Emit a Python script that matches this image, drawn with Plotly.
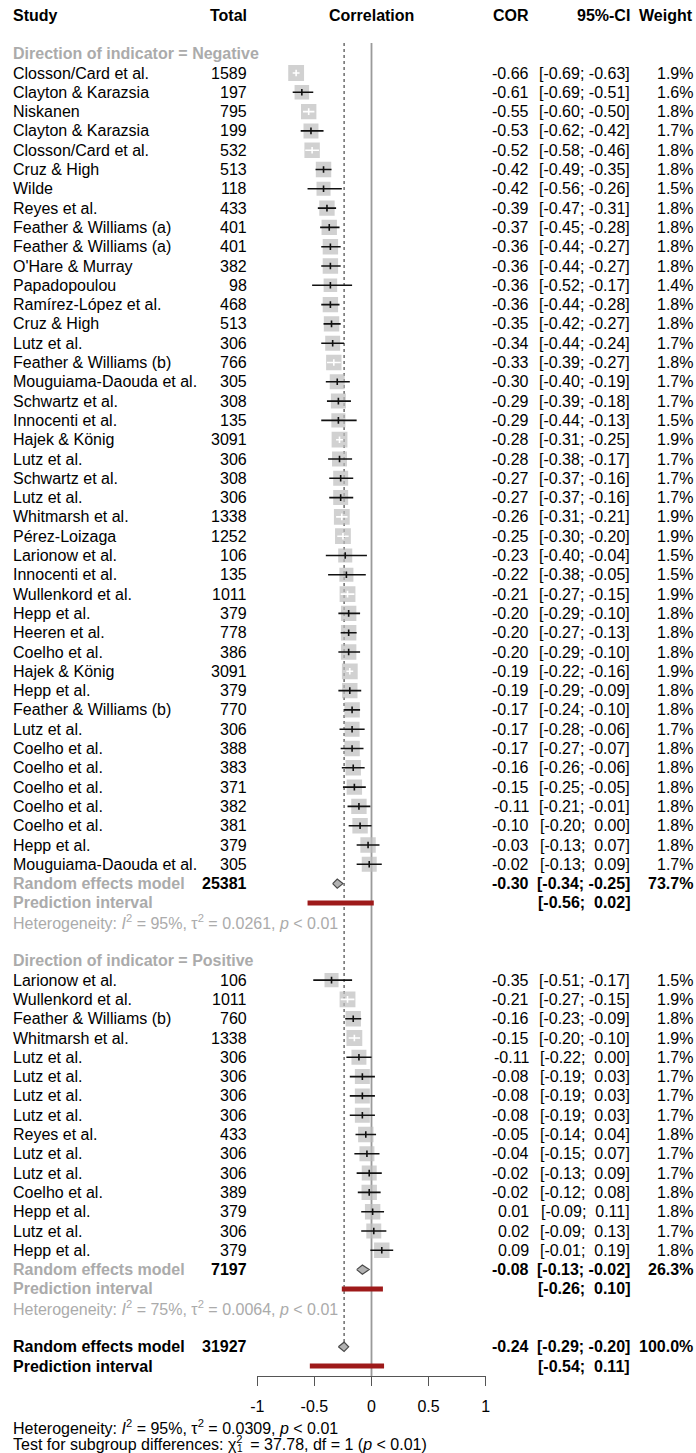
import plotly.graph_objects as go

# ---------------- data ----------------
neg_study = [
    "Closson/Card et al.", "Clayton & Karazsia", "Niskanen", "Clayton & Karazsia",
    "Closson/Card et al.", "Cruz & High", "Wilde", "Reyes et al.",
    "Feather & Williams (a)", "Feather & Williams (a)", "O'Hare & Murray", "Papadopoulou",
    "Ramírez-López et al.", "Cruz & High", "Lutz et al.", "Feather & Williams (b)",
    "Mouguiama-Daouda et al.", "Schwartz et al.", "Innocenti et al.", "Hajek & König",
    "Lutz et al.", "Schwartz et al.", "Lutz et al.", "Whitmarsh et al.",
    "Pérez-Loizaga", "Larionow et al.", "Innocenti et al.", "Wullenkord et al.",
    "Hepp et al.", "Heeren et al.", "Coelho et al.", "Hajek & König",
    "Hepp et al.", "Feather & Williams (b)", "Lutz et al.", "Coelho et al.",
    "Coelho et al.", "Coelho et al.", "Coelho et al.", "Coelho et al.",
    "Hepp et al.", "Mouguiama-Daouda et al.",
]
neg_total = [1589, 197, 795, 199, 532, 513, 118, 433, 401, 401, 382, 98, 468, 513, 306, 766,
             305, 308, 135, 3091, 306, 308, 306, 1338, 1252, 106, 135, 1011, 379, 778, 386,
             3091, 379, 770, 306, 388, 383, 371, 382, 381, 379, 305]
neg_cor = [-0.66, -0.61, -0.55, -0.53, -0.52, -0.42, -0.42, -0.39, -0.37, -0.36, -0.36, -0.36,
           -0.36, -0.35, -0.34, -0.33, -0.30, -0.29, -0.29, -0.28, -0.28, -0.27, -0.27, -0.26,
           -0.25, -0.23, -0.22, -0.21, -0.20, -0.20, -0.20, -0.19, -0.19, -0.17, -0.17, -0.17,
           -0.16, -0.15, -0.11, -0.10, -0.03, -0.02]
neg_lo = [-0.69, -0.69, -0.60, -0.62, -0.58, -0.49, -0.56, -0.47, -0.45, -0.44, -0.44, -0.52,
          -0.44, -0.42, -0.44, -0.39, -0.40, -0.39, -0.44, -0.31, -0.38, -0.37, -0.37, -0.31,
          -0.30, -0.40, -0.38, -0.27, -0.29, -0.27, -0.29, -0.22, -0.29, -0.24, -0.28, -0.27,
          -0.26, -0.25, -0.21, -0.20, -0.13, -0.13]
neg_hi = [-0.63, -0.51, -0.50, -0.42, -0.46, -0.35, -0.26, -0.31, -0.28, -0.27, -0.27, -0.17,
          -0.28, -0.27, -0.24, -0.27, -0.19, -0.18, -0.13, -0.25, -0.17, -0.16, -0.16, -0.21,
          -0.20, -0.04, -0.05, -0.15, -0.10, -0.13, -0.10, -0.16, -0.09, -0.10, -0.06, -0.07,
          -0.06, -0.05, -0.01, 0.00, 0.07, 0.09]
neg_weight = [1.9, 1.6, 1.8, 1.7, 1.8, 1.8, 1.5, 1.8, 1.8, 1.8, 1.8, 1.4, 1.8, 1.8, 1.7, 1.8,
              1.7, 1.7, 1.5, 1.9, 1.7, 1.7, 1.7, 1.9, 1.9, 1.5, 1.5, 1.9, 1.8, 1.8, 1.8, 1.9,
              1.8, 1.8, 1.7, 1.8, 1.8, 1.8, 1.8, 1.8, 1.8, 1.7]

pos_study = [
    "Larionow et al.", "Wullenkord et al.", "Feather & Williams (b)", "Whitmarsh et al.",
    "Lutz et al.", "Lutz et al.", "Lutz et al.", "Lutz et al.", "Reyes et al.",
    "Lutz et al.", "Lutz et al.", "Coelho et al.", "Hepp et al.", "Lutz et al.", "Hepp et al.",
]
pos_total = [106, 1011, 760, 1338, 306, 306, 306, 306, 433, 306, 306, 389, 379, 306, 379]
pos_cor = [-0.35, -0.21, -0.16, -0.15, -0.11, -0.08, -0.08, -0.08, -0.05, -0.04, -0.02, -0.02,
           0.01, 0.02, 0.09]
pos_lo = [-0.51, -0.27, -0.23, -0.20, -0.22, -0.19, -0.19, -0.19, -0.14, -0.15, -0.13, -0.12,
          -0.09, -0.09, -0.01]
pos_hi = [-0.17, -0.15, -0.09, -0.10, 0.00, 0.03, 0.03, 0.03, 0.04, 0.07, 0.09, 0.08,
          0.11, 0.13, 0.19]
pos_weight = [1.5, 1.9, 1.8, 1.9, 1.7, 1.7, 1.7, 1.7, 1.8, 1.7, 1.7, 1.8, 1.8, 1.7, 1.8]

# pooled estimates: (estimate, lower, upper, weight %, total N)
neg_re = (-0.30, -0.34, -0.25, 73.7, 25381)
neg_pi = (-0.56, 0.02)
neg_het = ("95%", "0.0261", "0.01")
pos_re = (-0.08, -0.13, -0.02, 26.3, 7197)
pos_pi = (-0.26, 0.10)
pos_het = ("75%", "0.0064", "0.01")
all_re = (-0.24, -0.29, -0.20, 100.0, 31927)
all_pi = (-0.54, 0.11)
all_het = ("95%", "0.0309", "0.01")
subgroup_test = ("37.78", "1", "0.01")

x_ticks = [-1, -0.5, 0, 0.5, 1]
x_ticktext = ["-1", "-0.5", "0", "0.5", "1"]

# ---------------- layout geometry ----------------
W, H = 696, 1453
ROW_PX = 19.3          # vertical distance between rows
ROW1_PX = 73.0         # pixel centre of row 1
X_LEFT, X_RIGHT = 257.3, 485.7   # pixel extent of the [-1, 1] forest axis
AXIS_PX = 1376         # pixel position of the x axis line
PX_PER_UNIT = (X_RIGHT - X_LEFT) / 2.0


def row_of(ypx):
    return 1 + (ypx - ROW1_PX) / ROW_PX


FONT = "Liberation Sans, Arial, Helvetica, sans-serif"
FS = 16
BLACK = "#000000"
LGRAY = "#ABABAB"
BOX = "#BDBDBD"

fig = go.Figure()
ann = []


def txt(x_px, row, text, anchor="left", color=BLACK, bold=False, size=FS):
    if bold:
        text = "<b>" + text + "</b>"
    ann.append(dict(x=x_px / W, xref="paper", y=row, yref="y", text=text,
                    xanchor=anchor, yanchor="middle", showarrow=False,
                    font=dict(family=FONT, size=size, color=color)))


def fmt_ci(lo, hi):
    a = f"{lo:.2f}" if lo < 0 else "\u00a0" + f"{lo:.2f}"
    b = f"{hi:.2f}" if hi < 0 else "\u00a0" + f"{hi:.2f}"
    return f"[{a}; {b}]"


C_STUDY, C_TOTAL, C_COR, C_CI, C_W = 11, 249, 531, 632, 695

# header
txt(C_STUDY, -2, "Study", bold=True)
txt(C_TOTAL, -2, "Total", anchor="right", bold=True)
txt((X_LEFT + X_RIGHT) / 2, -2, "Correlation", anchor="center", bold=True)
txt(C_COR, -2, "COR", anchor="right", bold=True)
txt(C_CI, -2, "95%-CI", anchor="right", bold=True)
txt(C_W, -2, "Weight", anchor="right", bold=True)

groups = [
    ("Direction of indicator = Negative", 0, neg_study, neg_total, neg_cor, neg_lo, neg_hi,
     neg_weight, neg_re, neg_pi, neg_het),
    ("Direction of indicator = Positive", 47, pos_study, pos_total, pos_cor, pos_lo, pos_hi,
     pos_weight, pos_re, pos_pi, pos_het),
]

sq_x, sq_y, sq_s = [], [], []
blk_x, blk_y, wht_x, wht_y = [], [], [], []
diamonds = []
pis = []
D_H = 0.24   # diamond half height (rows)
T_H = 0.17   # estimate tick half height (rows)


def het_text(h):
    return (f"Heterogeneity: <i>I</i><sup>2</sup> = {h[0]}, τ<sup>2</sup> = {h[1]}, "
            f"<i>p</i> &lt; {h[2]}")


for label, r0, st, tot, cor, lo, hi, wt, re, pi, het in groups:
    txt(C_STUDY, r0, label, color=LGRAY, bold=True)
    for i in range(len(st)):
        r = r0 + 1 + i
        txt(C_STUDY, r, st[i])
        txt(C_TOTAL, r, str(tot[i]), anchor="right")
        txt(C_COR, r, f"{cor[i]:.2f}", anchor="right")
        txt(C_CI, r, fmt_ci(lo[i], hi[i]), anchor="right")
        txt(C_W, r, f"{wt[i]:.1f}%", anchor="right")
        size = 15.4 * (wt[i] / 1.8) ** 0.5
        sq_x.append(cor[i]); sq_y.append(r); sq_s.append(size)
        inside = (hi[i] - lo[i]) * PX_PER_UNIT < size
        xs, ys = (wht_x, wht_y) if inside else (blk_x, blk_y)
        xs += [lo[i], hi[i], None, cor[i], cor[i], None]
        ys += [r, r, None, r - T_H, r + T_H, None]
    r = r0 + len(st) + 1
    txt(C_STUDY, r, "Random effects model", color=LGRAY, bold=True)
    txt(C_TOTAL, r, str(re[4]), anchor="right", bold=True)
    txt(C_COR, r, f"{re[0]:.2f}", anchor="right", bold=True)
    txt(C_CI, r, fmt_ci(re[1], re[2]), anchor="right", bold=True)
    txt(C_W, r, f"{re[3]:.1f}%", anchor="right", bold=True)
    diamonds.append((re, r))
    txt(C_STUDY, r + 1, "Prediction interval", color=LGRAY, bold=True)
    txt(C_CI, r + 1, fmt_ci(pi[0], pi[1]), anchor="right", bold=True)
    pis.append((pi, r + 1))
    txt(C_STUDY, r + 2, het_text(het), color=LGRAY)

# overall
r_all = 67
txt(C_STUDY, r_all, "Random effects model", bold=True)
txt(C_TOTAL, r_all, str(all_re[4]), anchor="right", bold=True)
txt(C_COR, r_all, f"{all_re[0]:.2f}", anchor="right", bold=True)
txt(C_CI, r_all, fmt_ci(all_re[1], all_re[2]), anchor="right", bold=True)
txt(C_W, r_all, f"{all_re[3]:.1f}%", anchor="right", bold=True)
diamonds.append((all_re, r_all))
txt(C_STUDY, r_all + 1, "Prediction interval", bold=True)
txt(C_CI, r_all + 1, fmt_ci(all_pi[0], all_pi[1]), anchor="right", bold=True)
pis.append((all_pi, r_all + 1))

txt(C_STUDY, row_of(1427), het_text(all_het))
txt(C_STUDY, row_of(1443),
    f"Test for subgroup differences: χ<sup>2</sup>\u2009 = "
    f"{subgroup_test[0]}, df = {subgroup_test[1]} (<i>p</i> &lt; {subgroup_test[2]})")
# chi-square degrees of freedom, set beneath the exponent
txt(235, row_of(1448), subgroup_test[1], size=10)

# reference lines
top_row = row_of(43)
fig.add_trace(go.Scatter(x=[0, 0], y=[top_row, row_of(AXIS_PX)], mode="lines",
                         line=dict(color="#9A9A9A", width=1.8), hoverinfo="skip"))
fig.add_trace(go.Scatter(x=[all_re[0], all_re[0]], y=[top_row, r_all - D_H], mode="lines",
                         line=dict(color="#222222", width=1, dash="dot"), hoverinfo="skip"))

# study boxes
fig.add_trace(go.Scatter(x=sq_x, y=sq_y, mode="markers",
                         marker=dict(symbol="square", size=sq_s, color=BOX, line=dict(width=0)),
                         hoverinfo="skip"))
fig.add_trace(go.Scatter(x=blk_x, y=blk_y, mode="lines",
                         line=dict(color="#111111", width=1.6), hoverinfo="skip"))
fig.add_trace(go.Scatter(x=wht_x, y=wht_y, mode="lines",
                         line=dict(color="#FFFFFF", width=1.6), hoverinfo="skip"))

# pooled diamonds
for re, r in diamonds:
    fig.add_trace(go.Scatter(x=[re[1], re[0], re[2], re[0], re[1]],
                             y=[r, r - D_H, r, r + D_H, r], mode="lines", fill="toself",
                             fillcolor="#B2B2B2", line=dict(color="#4A4A4A", width=1.2),
                             hoverinfo="skip"))

# prediction intervals
for pi, r in pis:
    fig.add_trace(go.Scatter(x=[pi[0], pi[1]], y=[r, r], mode="lines",
                             line=dict(color="#9E1A1A", width=5), hoverinfo="skip"))

fig.update_layout(
    width=W, height=H, margin=dict(l=0, r=0, t=0, b=0, pad=0, autoexpand=False),
    paper_bgcolor="white", plot_bgcolor="white", showlegend=False,
    annotations=ann,
    xaxis=dict(domain=[X_LEFT / W, X_RIGHT / W], range=[-1, 1], anchor="free",
               position=1 - AXIS_PX / H, showgrid=False, zeroline=False,
               showline=True, linecolor="#555555", linewidth=1.3,
               ticks="outside", ticklen=9, tickwidth=1.3, tickcolor="#555555",
               ticklabelstandoff=7,
               tickvals=x_ticks, ticktext=x_ticktext,
               tickfont=dict(family=FONT, size=FS, color=BLACK)),
    yaxis=dict(domain=[0, 1], range=[row_of(H), row_of(0)], visible=False,
               anchor="free", position=0),
)

fig.write_html("out.html")
